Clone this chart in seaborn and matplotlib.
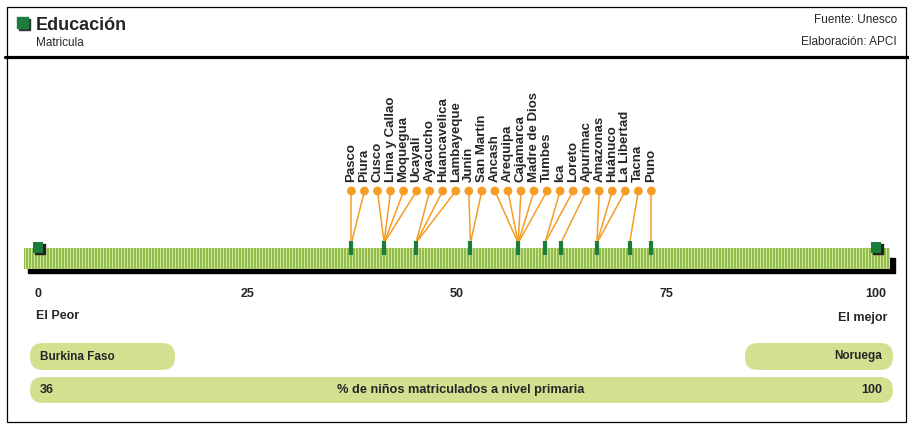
import numpy as np
import pandas as pd
import matplotlib.pyplot as plt
from matplotlib.patches import Rectangle, FancyBboxPatch
from matplotlib.colors import ListedColormap
from matplotlib.transforms import ScaledTranslation
import seaborn as sns

# data
regions = ["Pasco", "Piura", "Cusco", "Lima y Callao", "Moquegua", "Ucayali",
           "Ayacucho", "Huancavelica", "Lambayeque", "Junín", "San Martín",
           "Ancash", "Arequipa", "Cajamarca", "Madre de Dios", "Tumbes",
           "Ica", "Loreto", "Apurímac", "Amazonas", "Huánuco", "La Libertad",
           "Tacna", "Puno"]
values = [37.4, 37.4, 41.3, 41.3, 41.3, 41.3, 45.1, 45.1, 45.1, 51.6, 51.6,
          57.3, 57.3, 57.3, 57.3, 57.3, 60.5, 60.5, 62.4, 66.7, 66.7, 66.7,
          70.6, 73.2]
scale_ticks = [0, 25, 50, 75, 100]
worst_val, best_val = 0, 100
worst_country, best_country = "Burkina Faso", "Noruega"
worst_pct, best_pct = 36, 100
indicator = "% de niños matriculados a nivel primaria"

orange = "#f59d25"
green = "#1b7d3c"
light = "#cfe59a"
dark = "#93bd4c"
pill = "#d2e18f"

sns.set_style("white")
plt.rcParams['font.family'] = ['Liberation Sans', 'DejaVu Sans']

df = pd.DataFrame({"region": regions, "value": values})
df = df.sort_values("value", kind="stable").reset_index(drop=True)
# labels spread evenly between lowest and highest value
df["label_x"] = np.linspace(df["value"].min(), df["value"].max(), len(df))
df["dot_y"] = 191

fig = plt.figure(figsize=(9.09, 4.24), dpi=100)

# background axes in pixel units for frame, header, pills
ax0 = fig.add_axes([0, 0, 1, 1])
ax0.add_patch(Rectangle((7, 7), 899, 415, fill=False, ec="black", lw=0.9))
ax0.plot([5, 909], [57, 57], color="black", lw=2.3)
ax0.add_patch(Rectangle((19, 19), 11, 11, color="#333333"))
ax0.add_patch(Rectangle((17, 17), 11, 11, color=green))
ax0.text(36, 25, "Educación", fontsize=13, fontweight="bold", va="center")
ax0.text(36, 43, "Matricula", fontsize=8.5, va="center")
ax0.text(897, 20, "Fuente: Unesco", fontsize=8.5, va="center", ha="right")
ax0.text(897, 42, "Elaboración: APCI", fontsize=8.5, va="center", ha="right")

# striped scale bar with shadow
ax0.add_patch(Rectangle((28, 258), 867, 15, color="black", zorder=0))
stripes = (np.arange(866) % 3 == 1).astype(int)[None, :]
ax0.imshow(stripes, extent=(24, 890, 269, 248), aspect="auto", zorder=1,
           interpolation="nearest", cmap=ListedColormap([dark, light]))

ax0.text(36, 316, "El Peor", fontsize=9, fontweight="bold", va="center")
ax0.text(887, 318, "El mejor", fontsize=9, fontweight="bold", va="center", ha="right")

for x, w, y, h in [(30, 145, 343, 27), (745, 148, 343, 27), (30, 863, 377, 26)]:
    ax0.add_patch(FancyBboxPatch((x, y), w, h, boxstyle="round,pad=0,rounding_size=13",
                                 fc=pill, ec="none"))
ax0.text(40, 356.5, worst_country, fontsize=8.5, fontweight="bold", va="center")
ax0.text(882, 356.5, best_country, fontsize=8.5, fontweight="bold", va="center", ha="right")
ax0.text(40, 390, str(worst_pct), fontsize=9, fontweight="bold", va="center")
ax0.text(461, 390, indicator, fontsize=9.2, fontweight="bold", va="center", ha="center")
ax0.text(882, 390, str(best_pct), fontsize=9, fontweight="bold", va="center", ha="right")
ax0.set_xlim(0, 909)
ax0.set_ylim(424, 0)
ax0.axis("off")

# main axes: x in data units, y in pixels
ax = fig.add_axes([38 / 909, (424 - 273) / 424, (876 - 38) / 909, (273 - 62) / 424])
ax.patch.set_alpha(0)
ax.set_xlim(0, 100)
ax.set_ylim(273, 62)
for s in ax.spines.values():
    s.set_visible(False)
ax.set_yticks([])
ax.set_xticks(scale_ticks)
ax.tick_params(axis="x", length=6, width=1.5, color="#c2d97c", pad=5, labelsize=9)
for lbl in ax.get_xticklabels():
    lbl.set_fontweight("bold")

for _, r in df.iterrows():
    ax.plot([r["label_x"], r["value"]], [191, 243], color=orange, lw=1.1, zorder=3)
sns.scatterplot(data=df, x="label_x", y="dot_y", color=orange, s=40,
                edgecolor="none", ax=ax, zorder=4, legend=False)
ax.vlines(df["value"].unique(), 241, 255, color=green, lw=3, zorder=5)
for _, r in df.iterrows():
    ax.text(r["label_x"], 182, r["region"], rotation=90, ha="center", va="bottom",
            fontsize=9.5, fontweight="bold")

# worst / best end markers with shadow
shadow = ax.transData + ScaledTranslation(2 / 100, -2 / 100, fig.dpi_scale_trans)
ax.scatter([worst_val, best_val], [247.5, 247.5], marker="s", s=62, color="#222222",
           transform=shadow, zorder=5, clip_on=False)
sns.scatterplot(x=[worst_val, best_val], y=[247.5, 247.5], marker="s", s=62,
                color=green, edgecolor="none", ax=ax, zorder=6, clip_on=False)
ax.set_xlabel("")
ax.set_ylabel("")

fig.savefig("out.png", dpi=100)
